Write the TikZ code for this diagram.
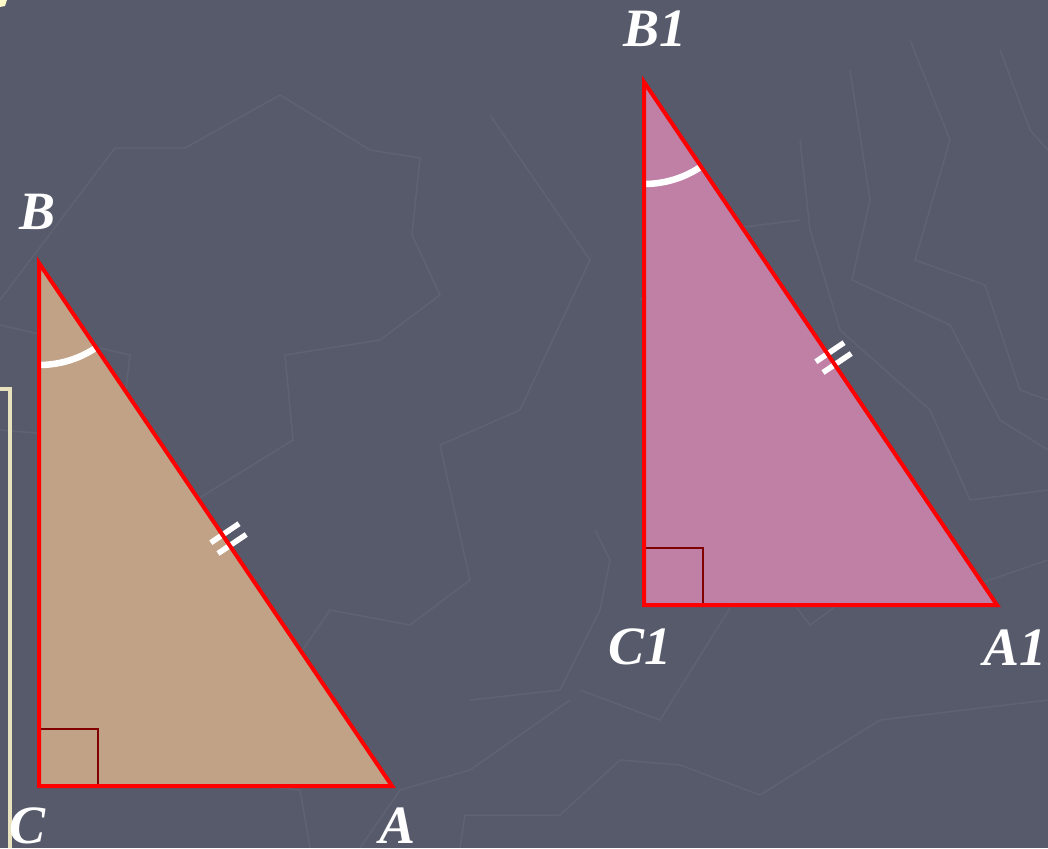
\documentclass[tikz,border=0pt]{standalone}
\usepackage{fontspec}
\setmainfont{Liberation Serif}
\definecolor{bgc}{RGB}{87,90,106}
\definecolor{tanfill}{RGB}{193,162,134}
\definecolor{pinkfill}{RGB}{192,128,166}
\definecolor{rightc}{RGB}{128,0,0}
\definecolor{paley}{RGB}{232,226,190}
\definecolor{yblob}{RGB}{255,250,200}
\tikzset{
  tri/.style={draw=red, line width=4pt, line join=miter},
  rangle/.style={draw=rightc, line width=2.5pt},
  anglemark/.style={draw=white, line width=6.5pt},
  tick/.style={draw=white, line width=5.5pt},
  lab/.style={text=white, font=\fontsize{54}{54}\selectfont\bfseries\itshape, inner sep=0pt, anchor=base},
  texture/.style={draw=white, opacity=0.05, line width=1.5pt}
}
\begin{document}
\begin{tikzpicture}[x=1pt,y=-1pt]
\useasboundingbox (0,0) rectangle (1048,848);
\fill[bgc] (0,0) rectangle (1048,848);
% faint background texture
\draw[texture] (0,300) -- (115,148) -- (185,148) -- (280,95) -- (370,150) -- (420,158) -- (412,235) -- (440,295) -- (380,340) -- (285,355) -- (293,440) -- (180,510) -- (145,540);
\draw[texture] (0,325) -- (130,355) -- (120,440) -- (0,430);
\draw[texture] (490,115) -- (590,260) -- (520,410) -- (440,445) -- (470,580) -- (410,625) -- (330,610) -- (255,720) -- (265,780);
\draw[texture] (850,70) -- (870,200) -- (852,280) -- (950,325) -- (1000,420) -- (1048,450);
\draw[texture] (910,40) -- (950,140) -- (915,260) -- (985,285) -- (1020,390) -- (1048,400);
\draw[texture] (1000,50) -- (1030,130) -- (1048,150);
\draw[texture] (460,848) -- (465,815) -- (560,815) -- (620,760) -- (680,765) -- (760,795) -- (880,720) -- (1048,700);
\draw[texture] (580,690) -- (660,720) -- (760,560) -- (810,625) -- (900,560) -- (960,590) -- (1048,560);
\draw[texture] (595,530) -- (610,560) -- (600,610) -- (560,690) -- (470,700);
\draw[texture] (800,140) -- (810,230) -- (840,330) -- (930,410) -- (970,500) -- (1048,490);
\draw[texture] (640,300) -- (720,230) -- (800,220);
\draw[texture] (190,690) -- (210,780) -- (300,790) -- (310,848);
\draw[texture] (360,848) -- (400,790) -- (470,770) -- (570,700);
% pale frame edge at left
\draw[paley, line width=4.5pt] (0,389) -- (10,389) -- (10,848);
\fill[yblob] (0,0) -- (7,0) -- (5,6) -- (0,7) -- cycle;
% triangle ABC
\coordinate (B) at (39,263);
\coordinate (C) at (39,786);
\coordinate (A) at (392,786);
\fill[tanfill] (B) -- (C) -- (A) -- cycle;
\draw[rangle] (39,729) -- (98,729) -- (98,786);
\draw[anglemark] (39,365) .. controls (59.7,365) and (79.9,358.8) .. (97,347);
\draw[tick] (210.8,542.7) -- (239,523.7);
\draw[tick] (218,553.5) -- (246.2,534.5);
\draw[tri] (B) -- (C) -- (A) -- cycle;
% triangle A1B1C1
\coordinate (B1) at (644,82);
\coordinate (C1) at (644,605);
\coordinate (A1) at (997,605);
\fill[pinkfill] (B1) -- (C1) -- (A1) -- cycle;
\begin{scope}[shift={(605,-181)}]
\draw[rangle] (39,729) -- (98,729) -- (98,786);
\draw[anglemark] (39,365) .. controls (59.7,365) and (79.9,358.8) .. (97,347);
\draw[tick] (210.8,542.7) -- (239,523.7);
\draw[tick] (218,553.5) -- (246.2,534.5);
\end{scope}
\draw[tri] (B1) -- (C1) -- (A1) -- cycle;
% labels
\node[lab] (lB) at (38,229) {B};
\node[lab] (lC) at (28,843) {C};
\node[lab] (lA) at (398,843) {A};
\node[lab] (lB1) at (655,47) {B1};
\node[lab] (lC1) at (640,664) {C1};
\node[lab] (lA1) at (1015,665) {A1};
\end{tikzpicture}
\end{document}
